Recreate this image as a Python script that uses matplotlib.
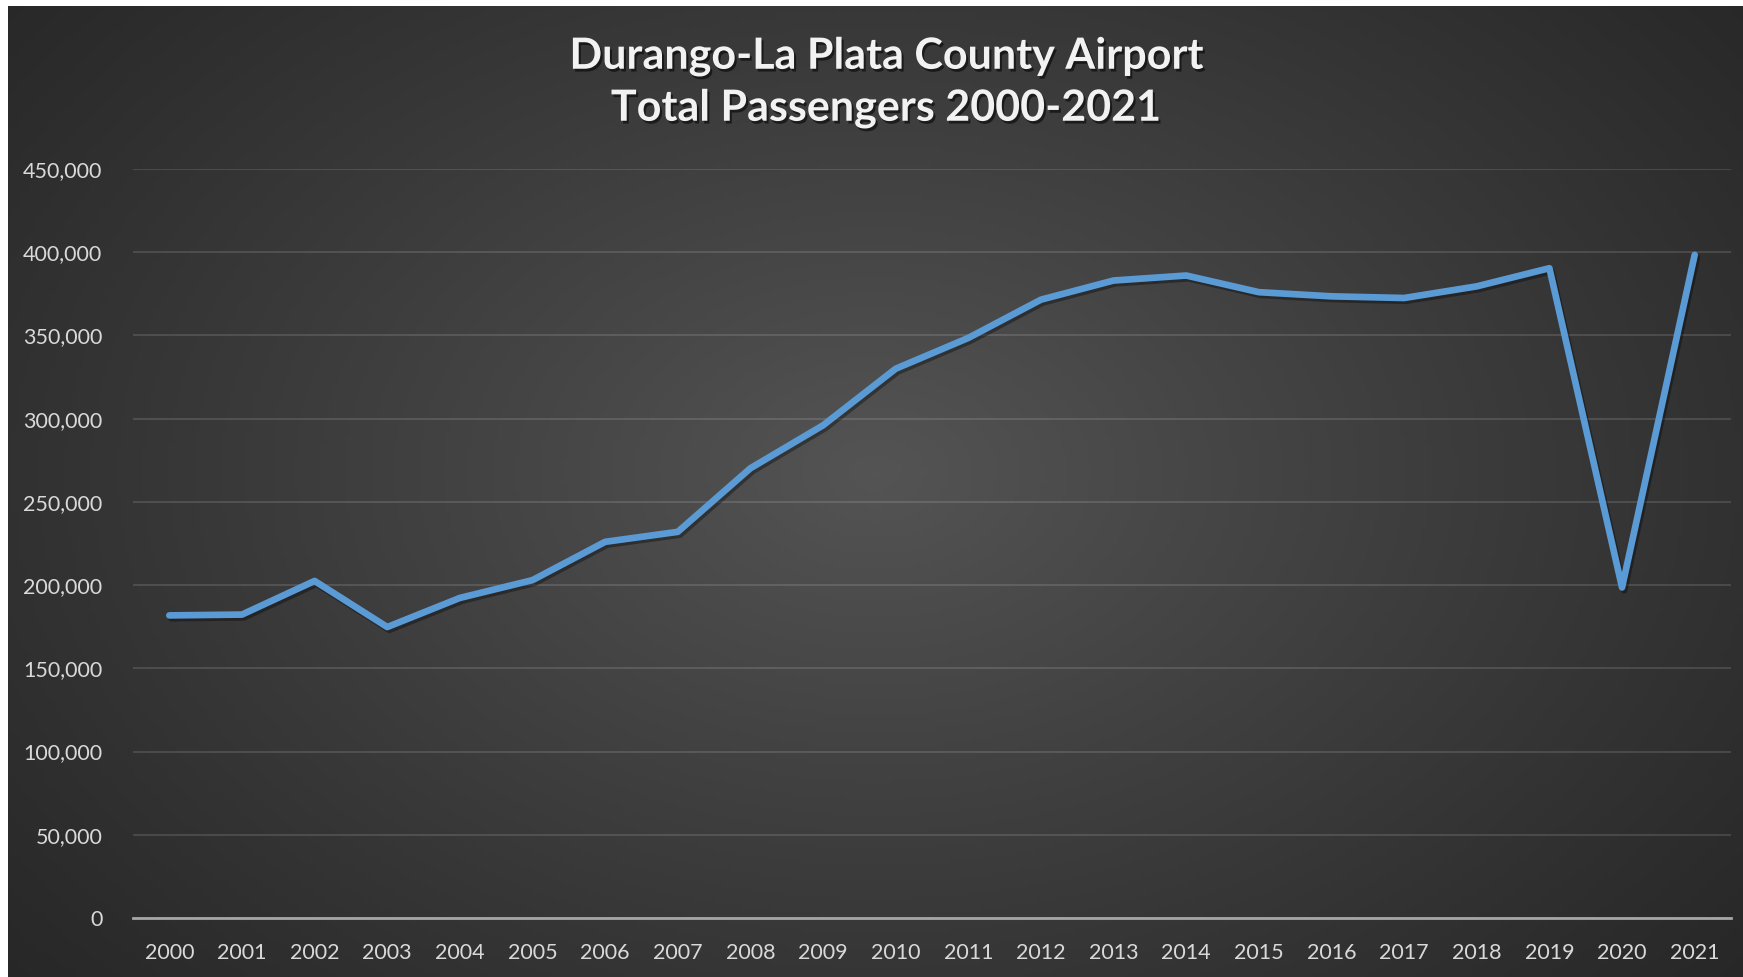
import numpy as np
import matplotlib.pyplot as plt
import matplotlib.patheffects as pe
from matplotlib.ticker import FuncFormatter

years = [str(y) for y in range(2000, 2022)]
passengers = [181800, 182300, 202500, 174800, 192300, 203000, 226000, 232000,
              270200, 296000, 330000, 348500, 371500, 383000, 386000, 376000,
              373500, 372500, 379500, 390400, 198600, 398400]
title_lines = ['Durango-La Plata County Airport', 'Total Passengers 2000-2021']

plt.rcParams['font.family'] = ['Lato', 'DejaVu Sans']

W, H = 1743, 977
fig = plt.figure(figsize=(W / 100, H / 100), dpi=100, facecolor='white')

# dark radial background (white strip at top and left like the screenshot)
bg = fig.add_axes([8 / W, 0, 1 - 8 / W, 1 - 6 / H])
bg.set_axis_off()
gx, gy = np.meshgrid(np.linspace(0, 1, 400), np.linspace(0, 1, 240))
r = np.sqrt(((gx - 0.5) / 0.66) ** 2 + ((gy - 0.52) / 0.8) ** 2)
shade = 0.155 + (0.33 - 0.155) * np.clip(1 - r, 0, 1) ** 1.1
bg.imshow(np.dstack([shade] * 3), extent=(0, 1, 0, 1), aspect='auto', origin='lower')
bg.set_xlim(0, 1)
bg.set_ylim(0, 1)

ax = fig.add_axes([133 / W, 1 - 918 / H, (1731 - 133) / W, (918 - 169) / H])
ax.patch.set_alpha(0)

x = np.arange(len(years))
ax.plot(x, passengers, color='#5b9bd5', lw=4.8, solid_joinstyle='round',
        solid_capstyle='round', zorder=3,
        path_effects=[pe.SimpleLineShadow(offset=(1.5, -2), shadow_color='black', alpha=0.35),
                      pe.Normal()])

ax.set_xlim(-0.5, len(years) - 0.5)
ax.set_ylim(0, 450000)
ax.set_yticks(np.arange(0, 450001, 50000))
ax.yaxis.set_major_formatter(FuncFormatter(lambda v, p: f'{int(v):,}'))
ax.set_xticks(x)
ax.set_xticklabels(years)

ax.grid(axis='y', color='white', alpha=0.13, lw=1.4)
ax.set_axisbelow(True)
for s in ['top', 'right', 'left']:
    ax.spines[s].set_visible(False)
ax.spines['bottom'].set_color('#a6a6a6')
ax.spines['bottom'].set_linewidth(2)
ax.tick_params(axis='both', length=0, labelsize=15.5, colors='#d9d9d9')
ax.tick_params(axis='y', pad=22)
ax.tick_params(axis='x', pad=18)

shadow = [pe.withSimplePatchShadow(offset=(1.5, -2), shadow_rgbFace='black', alpha=0.55)]
for line, ypix in zip(title_lines, [56, 108]):
    fig.text(886 / W, 1 - ypix / H, line, ha='center', va='center', fontsize=31,
             fontweight='bold', color='#f2f2f2', path_effects=shadow)

fig.savefig('out.png', dpi=100, facecolor=fig.get_facecolor())
